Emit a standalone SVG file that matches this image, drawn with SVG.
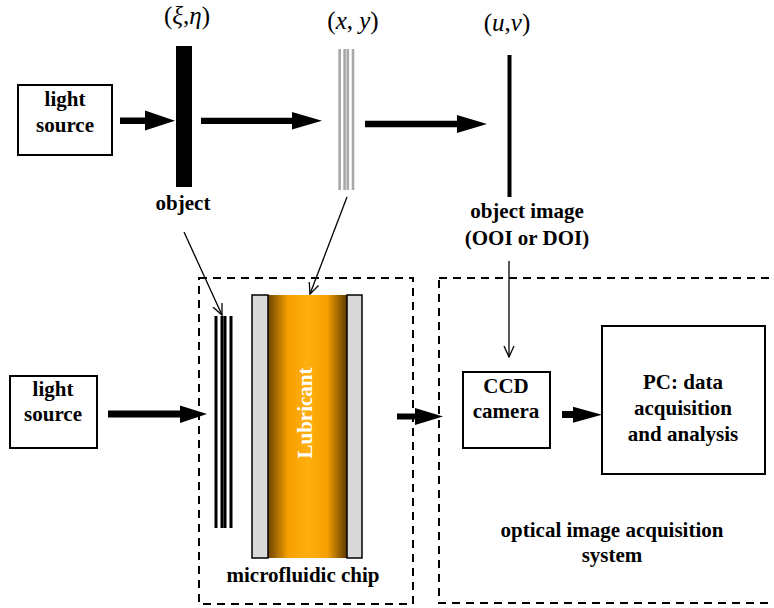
<svg xmlns="http://www.w3.org/2000/svg" width="774" height="608" viewBox="0 0 774 608">
  <style>
    .lbl { font-family: "Liberation Serif", "Times New Roman", serif; font-weight: bold; font-size: 21px; fill: #000; text-anchor: middle; }
    .math { font-family: "Liberation Serif", "Times New Roman", serif; font-size: 25px; fill: #000; text-anchor: middle; }
    .box { fill: #fff; stroke: #000; stroke-width: 2; }
    .dash { fill: none; stroke: #000; stroke-width: 2; stroke-dasharray: 8 6; }
    .thin { fill: none; stroke: #000; stroke-width: 1.3; }
    .fat { fill: #000; stroke: none; }
    .plate { fill: #d9d9d9; stroke: #000; stroke-width: 1.5; }
    .grey { stroke: #a8a8a8; }
  </style>
  <defs>
    <linearGradient id="lube" x1="0" y1="0" x2="1" y2="0">
      <stop offset="0" stop-color="#6e4400"/>
      <stop offset="0.25" stop-color="#f5a000"/>
      <stop offset="0.5" stop-color="#ffae10"/>
      <stop offset="0.75" stop-color="#f5a000"/>
      <stop offset="1" stop-color="#5e3a00"/>
    </linearGradient>
    <marker id="vee" viewBox="0 0 12 12" refX="11" refY="6" markerWidth="12" markerHeight="12" markerUnits="userSpaceOnUse" orient="auto">
      <path d="M0,1 L11,6 L0,11" fill="none" stroke="#000" stroke-width="1.3"/>
    </marker>
  </defs>
  <rect width="774" height="608" fill="#fff"/>

  <!-- dashed enclosures -->
  <g id="chip-frame">
    <rect class="dash" x="199" y="278" width="214" height="326"/>
  </g>
  <g id="acquisition-frame">
    <rect class="dash" x="439" y="278" width="345" height="325"/>
    <text class="lbl" x="612" y="537">optical image acquisition</text>
    <text class="lbl" x="612" y="562">system</text>
  </g>

  <!-- top row -->
  <g id="light-source-top">
    <rect class="box" x="18" y="85" width="94" height="70"/>
    <text class="lbl" x="65" y="106">light</text>
    <text class="lbl" x="65" y="132">source</text>
  </g>
  <g id="object-plane">
    <rect x="176" y="46" width="16" height="141" fill="#000"/>
    <text class="math" x="187" y="24">(<tspan font-style="italic">ξ</tspan>,<tspan font-style="italic">η</tspan>)</text>
    <text class="lbl" x="183" y="210">object</text>
  </g>
  <g id="grating-plane">
    <g stroke-width="2.6">
      <line class="grey" x1="339.6" y1="49" x2="339.6" y2="190"/>
      <line class="grey" x1="344.6" y1="49" x2="344.6" y2="190"/>
      <line class="grey" x1="347.8" y1="49" x2="347.8" y2="190"/>
      <line class="grey" x1="353" y1="49" x2="353" y2="190"/>
    </g>
    <text class="math" x="353" y="29">(<tspan font-style="italic">x</tspan>, <tspan font-style="italic">y</tspan>)</text>
  </g>
  <g id="image-plane">
    <line x1="509.5" y1="55" x2="509.5" y2="197" stroke="#000" stroke-width="4"/>
    <text class="math" x="507" y="31">(<tspan font-style="italic">u</tspan>,<tspan font-style="italic">v</tspan>)</text>
    <text class="lbl" x="527" y="218">object image</text>
    <text class="lbl" x="527" y="245">(OOI or DOI)</text>
  </g>

  <!-- bottom row -->
  <g id="light-source-bottom">
    <rect class="box" x="10" y="376" width="87" height="72"/>
    <text class="lbl" x="53" y="396">light</text>
    <text class="lbl" x="53" y="421">source</text>
  </g>
  <g id="grating-stack">
    <g stroke="#000" stroke-width="3">
      <line x1="216" y1="316" x2="216" y2="528"/>
      <line x1="222" y1="316" x2="222" y2="528"/>
      <line x1="225" y1="316" x2="225" y2="528"/>
      <line x1="231" y1="316" x2="231" y2="528"/>
    </g>
  </g>
  <g id="microfluidic-chip">
    <rect x="268" y="295" width="79" height="263" fill="url(#lube)"/>
    <rect class="plate" x="252" y="295" width="16" height="263"/>
    <rect class="plate" x="347" y="295" width="15" height="263"/>
    <text class="lbl" x="0" y="0" style="fill:#fff" transform="translate(312,413) rotate(-90)">Lubricant</text>
    <text class="lbl" x="303" y="582">microfluidic chip</text>
  </g>
  <g id="ccd-camera">
    <rect class="box" x="463" y="372" width="87" height="76"/>
    <text class="lbl" x="506" y="393">CCD</text>
    <text class="lbl" x="506" y="418">camera</text>
  </g>
  <g id="pc">
    <rect class="box" x="602" y="326" width="163" height="148"/>
    <text class="lbl" x="683" y="389">PC: data</text>
    <text class="lbl" x="683" y="415">acquisition</text>
    <text class="lbl" x="683" y="441">and analysis</text>
  </g>

  <!-- connectors -->
  <g id="connectors">
    <polygon class="fat" points="120,117.5 145,117.5 145,110.5 175,120.7 145,130.5 145,124 120,124"/>
    <polygon class="fat" points="201,117.7 292,117.7 292,112 322,120.7 292,129.5 292,124 201,124"/>
    <polygon class="fat" points="365,120.7 457,120.7 457,115 487,124 457,133 457,127.3 365,127.3"/>
    <polygon class="fat" points="108,410.5 180,410.5 180,405.5 207,414 180,423 180,417.5 108,417.5"/>
    <polygon class="fat" points="397,413.5 415,413.5 415,408 443,416.5 415,425 415,419.5 397,419.5"/>
    <polygon class="fat" points="562,411 573,411 573,406.7 602,414.7 573,422.7 573,418 562,418"/>
    <line class="thin" x1="184" y1="232" x2="222" y2="315" marker-end="url(#vee)"/>
    <line class="thin" x1="347" y1="197" x2="310" y2="294" marker-end="url(#vee)"/>
    <line class="thin" x1="509" y1="261" x2="509" y2="357" marker-end="url(#vee)"/>
  </g>
</svg>
